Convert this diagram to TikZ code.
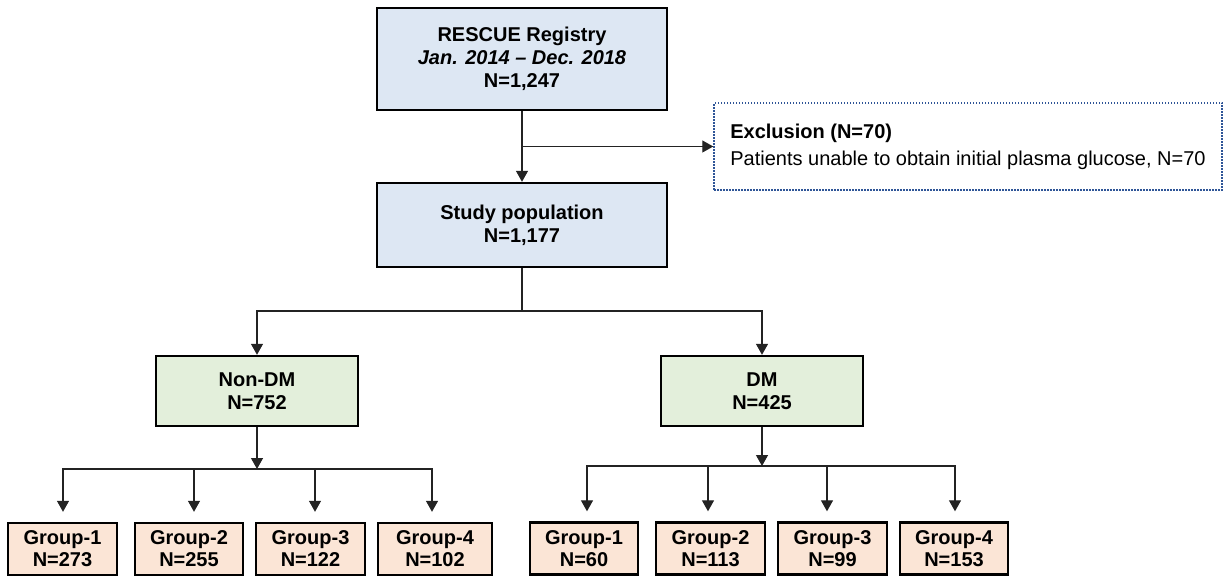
\documentclass[tikz,border=0pt]{standalone}
\usepackage{fontspec}
\setmainfont{Liberation Sans}
\usetikzlibrary{arrows.meta,calc}
\definecolor{boxblue}{RGB}{221,231,243}
\definecolor{boxgreen}{RGB}{227,239,219}
\definecolor{boxpeach}{RGB}{251,229,214}
\definecolor{dotblue}{RGB}{47,85,151}
\definecolor{linegray}{RGB}{35,35,35}
\begin{document}
\begin{tikzpicture}[x=1pt,y=-1pt,
  every node/.style={font=\fontsize{20}{23}\selectfont},
  fbox/.style={draw=black,line width=2.4pt,inner sep=0pt,align=center,font=\fontsize{20}{23}\selectfont\bfseries},
  bluebox/.style={fbox,fill=boxblue,minimum width=290pt},
  greenbox/.style={fbox,fill=boxgreen,minimum width=202pt,minimum height=70pt},
  grpbox/.style={fbox,fill=boxpeach,minimum height=52pt,font=\fontsize{20}{22}\selectfont\bfseries},
  conn/.style={draw=linegray,line width=1.3pt},
  arr/.style={conn,-{Triangle[length=11pt,width=12pt]}}
]
\useasboundingbox (0,0) rectangle (1224,577);

% main boxes
\node[bluebox,minimum height=102pt] (rescue) at (522,59)
  {RESCUE Registry\\\textit{Jan. 2014 -- Dec. 2018}\\N=1,247};
\node[bluebox,minimum height=84pt] (study) at (522,225)
  {Study population\\N=1,177};
\node[draw=dotblue,line width=1.5pt,dash pattern=on 1.5pt off 1.5pt,
  minimum width=508pt,minimum height=87pt,inner sep=0pt,align=left]
  (excl) at (968,146.5)
  {\textbf{Exclusion (N=70)}\\[4pt]Patients unable to obtain initial plasma glucose, N=70};

\node[greenbox] (nondm) at (257,391) {Non-DM\\N=752};
\node[greenbox] (dm) at (762,391) {DM\\N=425};

% groups, non-DM
\node[grpbox,minimum width=109pt] (l1) at (62.5,549) {Group-1\\N=273};
\node[grpbox,minimum width=108pt] (l2) at (189,549) {Group-2\\N=255};
\node[grpbox,minimum width=109pt] (l3) at (310.5,549) {Group-3\\N=122};
\node[grpbox,minimum width=114pt] (l4) at (435,549) {Group-4\\N=102};
% groups, DM
\node[grpbox,minimum width=108pt] (r1) at (584,548.5) {Group-1\\N=60};
\node[grpbox,minimum width=109pt] (r2) at (710.5,548.5) {Group-2\\N=113};
\node[grpbox,minimum width=109pt] (r3) at (832.5,548.5) {Group-3\\N=99};
\node[grpbox,minimum width=108pt] (r4) at (954,548.5) {Group-4\\N=153};

% connectors top
\draw[arr] (rescue.south) -- (study.north);
\coordinate (e1) at ($(rescue.south)!0.5!(study.north)$);
\draw[arr] (e1) -- (e1 -| excl.west);

\coordinate (b0) at (522,311);
\draw[conn] (study.south) -- (b0);
\draw[arr] (b0) -| (nondm.north);
\draw[arr] (b0) -| (dm.north);

% non-DM branch
\coordinate (lb) at (257,469);
\draw[arr] (nondm.south) -- (lb);
\draw[arr] (lb) -| ([xshift=0.5pt,yshift=10pt]l1.north);
\draw[arr] (lb) -| ([xshift=5pt,yshift=10pt]l2.north);
\draw[arr] (lb) -| ([xshift=4.5pt,yshift=10pt]l3.north);
\draw[arr] (lb) -| ([xshift=-3pt,yshift=10pt]l4.north);

% DM branch
\coordinate (rb) at (762,466);
\draw[arr] (dm.south) -- (rb);
\draw[arr] (rb) -| ([xshift=3pt,yshift=10pt]r1.north);
\draw[arr] (rb) -| ([xshift=-2.5pt,yshift=10pt]r2.north);
\draw[arr] (rb) -| ([xshift=-5.5pt,yshift=10pt]r3.north);
\draw[arr] (rb) -| ([xshift=1pt,yshift=10pt]r4.north);
\end{tikzpicture}
\end{document}
